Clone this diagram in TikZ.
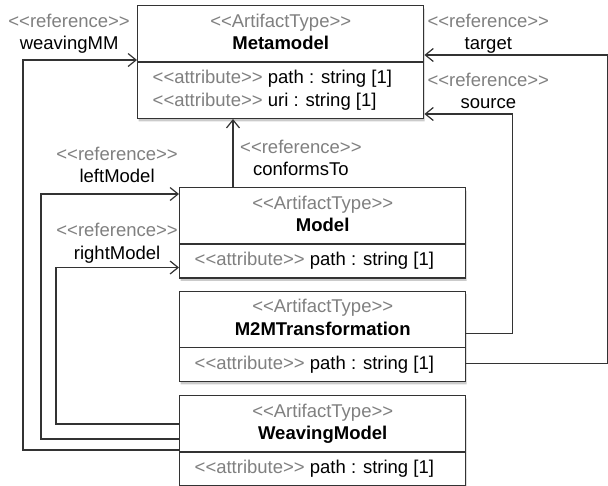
\documentclass[tikz,border=0pt]{standalone}
\usepackage{fontspec}
\setmainfont{Liberation Sans}[Ligatures=TeXOff]
\usepackage{xcolor}
\usetikzlibrary{arrows.meta,positioning,shapes.multipart,shadows}

\definecolor{stgray}{HTML}{808080}
\definecolor{linegray}{HTML}{333333}
\newcommand{\stereo}[1]{\textcolor{stgray}{<<#1>>}}
\newcommand{\ls}{\rule[-4pt]{0pt}{13.5pt}}

\begin{document}
\begin{tikzpicture}[
x=1pt, y=-1pt,
node distance=12pt and 10pt,
font=\fontsize{18.5}{22.5}\selectfont,
cls/.style={rectangle split, rectangle split parts=2, draw=linegray, line width=1.4pt, fill=white,
  minimum width=286pt, inner xsep=15pt, inner ysep=7.5pt, align=center,
  rectangle split part align={center,left},
  drop shadow={shadow xshift=1pt, shadow yshift=-3pt, fill=black!45, opacity=0.45}},
lbl/.style={align=center, inner sep=0pt},
ref/.style={draw=linegray, line width=1.2pt, -{Straight Barb[length=8pt,width=13pt]}}
]
\useasboundingbox (0,0) rectangle (608,485);

% artifact types
\node[cls, anchor=north west] (mm) at (137,5)
  {\ls\stereo{ArtifactType}\\\ls\textbf{Metamodel}
   \nodepart{two}\ls\stereo{attribute} path : string [1]\\\ls\stereo{attribute} \rlap{uri : string [1]}\phantom{path : string [1]}};
\node[cls, anchor=north west] (model) at (179,187)
  {\ls\stereo{ArtifactType}\\\ls\textbf{Model}
   \nodepart{two}\ls\stereo{attribute} path : string [1]};
\node[cls, below=12pt of model] (m2m)
  {\ls\stereo{ArtifactType}\\\ls\textbf{M2MTransformation}
   \nodepart{two}\ls\stereo{attribute} path : string [1]};
\node[cls, below=13pt of m2m] (wm)
  {\ls\stereo{ArtifactType}\\\ls\textbf{WeavingModel}
   \nodepart{two}\ls\stereo{attribute} path : string [1]};

% references
\draw[ref] ([yshift=2pt]wm.text split west) -- ++(-156,0) |- ([yshift=2pt]mm.text split west);
\draw[ref] ([yshift=13pt]wm.text split west) -- ++(-138,0) |- ([yshift=-7pt]model.north west);
\draw[ref] ([yshift=28pt]wm.text split west) -- ++(-123,0) |- ([yshift=11pt]model.south west);
\draw[ref] ([xshift=54pt]model.north west) -- ([xshift=54pt]model.north west |- mm.south);
\draw[ref] ([yshift=14pt]m2m.text split east) -- ++(46,0) |- ([yshift=5pt]mm.south east);
\draw[ref] ([yshift=-16pt]m2m.text split east) -- ++(141,0) |- ([yshift=7pt]mm.text split east);

% reference labels
\node[lbl, anchor=south east] (wmlbl) at ([xshift=-7pt,yshift=8pt]mm.text split west)
  {\ls\stereo{reference}\\\ls weavingMM};
\node[lbl, anchor=south west] (tgtlbl) at ([xshift=3pt,yshift=8pt]mm.text split east)
  {\ls\stereo{reference}\\\ls target};
\node[lbl, anchor=south west] (srclbl) at ([xshift=3pt,yshift=6pt]mm.south east)
  {\ls\stereo{reference}\\\ls source};
\node[lbl, anchor=south west] (conflbl) at ([xshift=61pt,yshift=7pt]model.north west)
  {\ls\stereo{reference}\\\ls conformsTo};
\node[lbl, anchor=south east] (leftlbl) at ([xshift=-1pt]model.north west)
  {\ls\stereo{reference}\\\ls leftModel};
\node[lbl, anchor=south east] (rightlbl) at ([xshift=-1pt,yshift=15pt]model.south west)
  {\ls\stereo{reference}\\\ls rightModel};
\end{tikzpicture}
\end{document}
